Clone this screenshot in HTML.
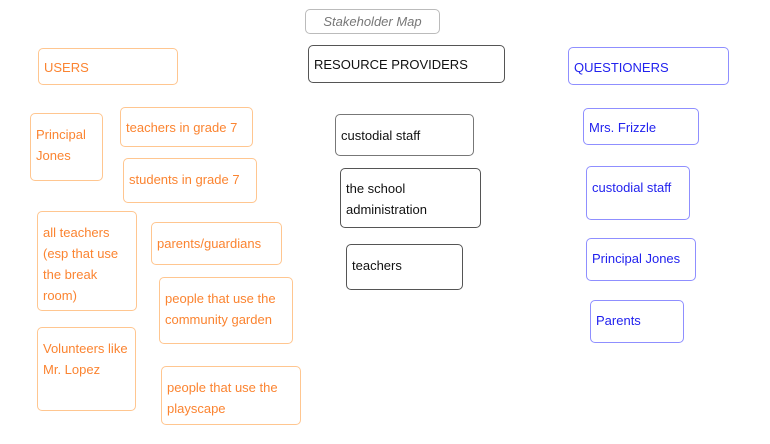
<!DOCTYPE html>
<html><head><meta charset="utf-8"><style>
body{margin:0;width:770px;height:444px;background:#fff;position:relative;overflow:hidden;font-family:"Liberation Sans",sans-serif;font-size:13px}
.b{position:absolute;box-sizing:border-box;border-radius:5px;padding:0 5px;line-height:21px}
.o{border:1px solid #ffc690;color:#fb8431}
.k{border:1px solid #555;color:#111}
.u{border:1px solid #8f8fff;color:#2222ee}
</style></head><body>
<div class="b" style="left:305px;top:9px;width:135px;height:25px;border:1px solid #bbb;color:#777;font-style:italic;text-align:center;line-height:23px">Stakeholder Map</div>

<div class="b o" style="left:38px;top:48px;width:140px;height:37px;padding-top:8px">USERS</div>
<div class="b o" style="left:30px;top:113px;width:73px;height:68px;padding-top:10px">Principal Jones</div>
<div class="b o" style="left:120px;top:107px;width:133px;height:40px;padding-top:9px">teachers in grade 7</div>
<div class="b o" style="left:123px;top:158px;width:134px;height:45px;padding-top:10px">students in grade 7</div>
<div class="b o" style="left:37px;top:211px;width:100px;height:100px;padding-top:10px">all teachers (esp that use the break room)</div>
<div class="b o" style="left:151px;top:222px;width:131px;height:43px;padding-top:10px">parents/guardians</div>
<div class="b o" style="left:159px;top:277px;width:134px;height:67px;padding-top:10px">people that use the community garden</div>
<div class="b o" style="left:37px;top:327px;width:99px;height:84px;padding-top:10px">Volunteers like Mr. Lopez</div>
<div class="b o" style="left:161px;top:366px;width:140px;height:59px;padding-top:10px">people that use the playscape</div>

<div class="b k" style="left:308px;top:45px;width:197px;height:38px;padding-top:8px">RESOURCE PROVIDERS</div>
<div class="b k" style="left:335px;top:114px;width:139px;height:42px;padding-top:10px;border-color:#777">custodial staff</div>
<div class="b k" style="left:340px;top:168px;width:141px;height:60px;padding-top:9px">the school administration</div>
<div class="b k" style="left:346px;top:244px;width:117px;height:46px;padding-top:10px">teachers</div>

<div class="b u" style="left:568px;top:47px;width:161px;height:38px;padding-top:9px">QUESTIONERS</div>
<div class="b u" style="left:583px;top:108px;width:116px;height:37px;padding-top:8px">Mrs. Frizzle</div>
<div class="b u" style="left:586px;top:166px;width:104px;height:54px;padding-top:10px">custodial staff</div>
<div class="b u" style="left:586px;top:238px;width:110px;height:43px;padding-top:9px">Principal Jones</div>
<div class="b u" style="left:590px;top:300px;width:94px;height:43px;padding-top:9px">Parents</div>
</body></html>
